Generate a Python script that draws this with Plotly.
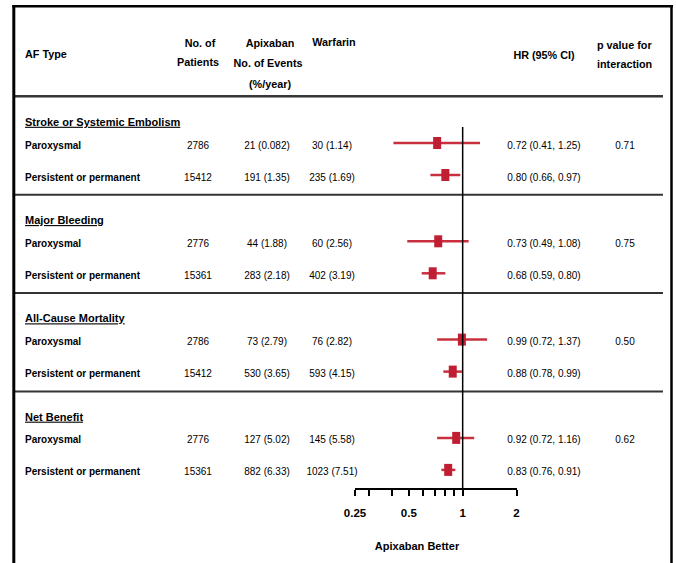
import plotly.graph_objects as go

# ---- data ----
outcomes = ["Stroke or Systemic Embolism", "Major Bleeding", "All-Cause Mortality", "Net Benefit"]
af_types = ["Paroxysmal", "Persistent or permanent"]

n_patients = [[2786, 15412], [2776, 15361], [2786, 15412], [2776, 15361]]
apix_events = [["21 (0.082)", "191 (1.35)"], ["44 (1.88)", "283 (2.18)"],
               ["73 (2.79)", "530 (3.65)"], ["127 (5.02)", "882 (6.33)"]]
warf_events = [["30 (1.14)", "235 (1.69)"], ["60 (2.56)", "402 (3.19)"],
               ["76 (2.82)", "593 (4.15)"], ["145 (5.58)", "1023 (7.51)"]]
hr = [[0.72, 0.80], [0.73, 0.68], [0.99, 0.88], [0.92, 0.83]]
ci_low = [[0.41, 0.66], [0.49, 0.59], [0.72, 0.78], [0.72, 0.76]]
ci_high = [[1.25, 0.97], [1.08, 0.80], [1.37, 0.99], [1.16, 0.91]]
p_interaction = ["0.71", "0.75", "0.50", "0.62"]

tick_vals = [0.25, 0.3, 0.4, 0.5, 0.6, 0.7, 0.8, 0.9, 1, 2]
tick_text = ["0.25", "", "", "0.5", "", "", "", "", "1", "2"]

# ---- page geometry (pixels on a 676 x 563 canvas) ----
W, H = 676, 563
AXIS_Y = 488
FONT = "Liberation Sans Narrow, Arial Narrow, Liberation Sans, Arial, sans-serif"
RED = "#c01f33"
CI_RED = "#c9303f"

# text items grouped by style: (size, bold, position, underline) -> lists
text_groups = {}


def text(x, y, s, size=10, bold=False, pos="middle center", underline=False):
    key = (size, bold, pos, underline)
    g = text_groups.setdefault(key, ([], [], []))
    g[0].append(x)
    g[1].append(y)
    g[2].append(s)


shapes = []


def hline(y, x0, x1, color="black", width=1.5):
    shapes.append(dict(type="line", xref="x2", yref="y2", x0=x0, x1=x1, y0=y, y1=y,
                       line=dict(color=color, width=width)))


# column centres
COL_PAT, COL_APX, COL_WAR, COL_HR, COL_P = 198, 267, 332, 544, 625
LEFT = 25
HDR = 10.8

# header (one text item per line)
text(LEFT, 55, "AF Type", HDR, True, "middle right")
text(200, 44, "No. of", HDR, True)
text(198, 63, "Patients", HDR, True)
text(270, 44, "Apixaban", HDR, True)
text(268, 64, "No. of Events", HDR, True)
text(270, 85, "(%/year)", HDR, True)
text(334, 43, "Warfarin", HDR, True)
text(COL_HR, 56, "HR (95% CI)", HDR, True)
text(597, 46, "p value for", HDR, True, "middle right")
text(597, 65, "interaction", HDR, True, "middle right")
hline(96, 13, 663, "black", 1.5)

# body rows
ci_x, ci_y, mk_x, mk_y = [], [], [], []
for g, name in enumerate(outcomes):
    top = 123 + 98.3 * g
    hline(top - 26.5, 13, 663, "#333333", 2)
    text(LEFT, top, name, 11, True, "middle right", underline=True)
    for r, af in enumerate(af_types):
        y = top + (23 if r == 0 else 55)
        text(LEFT, y, af, 10, True, "middle right")
        text(COL_PAT, y, str(n_patients[g][r]))
        text(COL_APX, y, apix_events[g][r])
        text(COL_WAR, y, warf_events[g][r])
        text(COL_HR, y, f"{hr[g][r]:.2f} ({ci_low[g][r]:.2f}, {ci_high[g][r]:.2f})")
        if r == 0:
            text(COL_P, y, p_interaction[g])
        yc = y - 3
        ci_x += [ci_low[g][r], ci_high[g][r], None]
        ci_y += [yc, yc, None]
        mk_x += [hr[g][r], hr[g][r], None]
        mk_y += [yc - 6, yc + 6, None]

text(417, 547, "Apixaban Better", 11, True)

fig = go.Figure()
fig.add_trace(go.Scatter(x=ci_x, y=ci_y, mode="lines", line=dict(color=CI_RED, width=2.5),
                         hoverinfo="skip", showlegend=False))
fig.add_trace(go.Scatter(x=mk_x, y=mk_y, mode="lines", line=dict(color=RED, width=8),
                         hoverinfo="skip", showlegend=False))

for (size, bold, pos, underline), (xs, ys, ss) in text_groups.items():
    tf = dict(family=FONT, size=size, color="black")
    if bold:
        tf["weight"] = "bold"
    if underline:
        tf["lineposition"] = "under"
    fig.add_trace(go.Scatter(x=xs, y=ys, text=ss, mode="text", textposition=pos,
                             textfont=tf, xaxis="x2", yaxis="y2", cliponaxis=False,
                             hoverinfo="skip", showlegend=False))

# reference line at HR = 1
shapes.append(dict(type="line", xref="x", yref="y", x0=1, x1=1, y0=127, y1=AXIS_Y,
                   line=dict(color="black", width=1.5)))

# outer frame (open at the bottom)
shapes.append(dict(type="line", xref="x2", yref="y2", x0=13.8, x1=13.8, y0=5, y1=H + 10,
                   line=dict(color="black", width=3)))
shapes.append(dict(type="line", xref="x2", yref="y2", x0=12.3, x1=673, y0=6.2, y1=6.2,
                   line=dict(color="black", width=2.5)))
shapes.append(dict(type="line", xref="x2", yref="y2", x0=671.5, x1=671.5, y0=5, y1=H + 10,
                   line=dict(color="black", width=2.5)))

fig.update_layout(
    width=W, height=H, autosize=False,
    margin=dict(l=0, r=0, t=0, b=0, pad=0, autoexpand=False),
    paper_bgcolor="white", plot_bgcolor="rgba(0,0,0,0)",
    showlegend=False,
    shapes=shapes,
    xaxis=dict(type="log", range=[-0.60206, 0.30103], domain=[355 / W, 516.5 / W],
               tickvals=tick_vals, ticktext=tick_text, ticks="outside", ticklen=6,
               tickwidth=1.5, tickcolor="black", showline=True, linecolor="black",
               linewidth=2, showgrid=False, zeroline=False, ticklabelstandoff=7,
               automargin=False,
               tickfont=dict(family=FONT, size=11.5, color="black", weight="bold")),
    yaxis=dict(range=[AXIS_Y, 0], domain=[(H - AXIS_Y) / H, 1], visible=False,
               showgrid=False, zeroline=False, automargin=False),
    xaxis2=dict(range=[0, W], domain=[0, 1], anchor="y2", visible=False,
                showgrid=False, zeroline=False, automargin=False),
    yaxis2=dict(range=[H, 0], domain=[0, 1], anchor="x2", visible=False,
                showgrid=False, zeroline=False, automargin=False),
)

fig.write_html("out.html", config={"responsive": False, "displayModeBar": False})
